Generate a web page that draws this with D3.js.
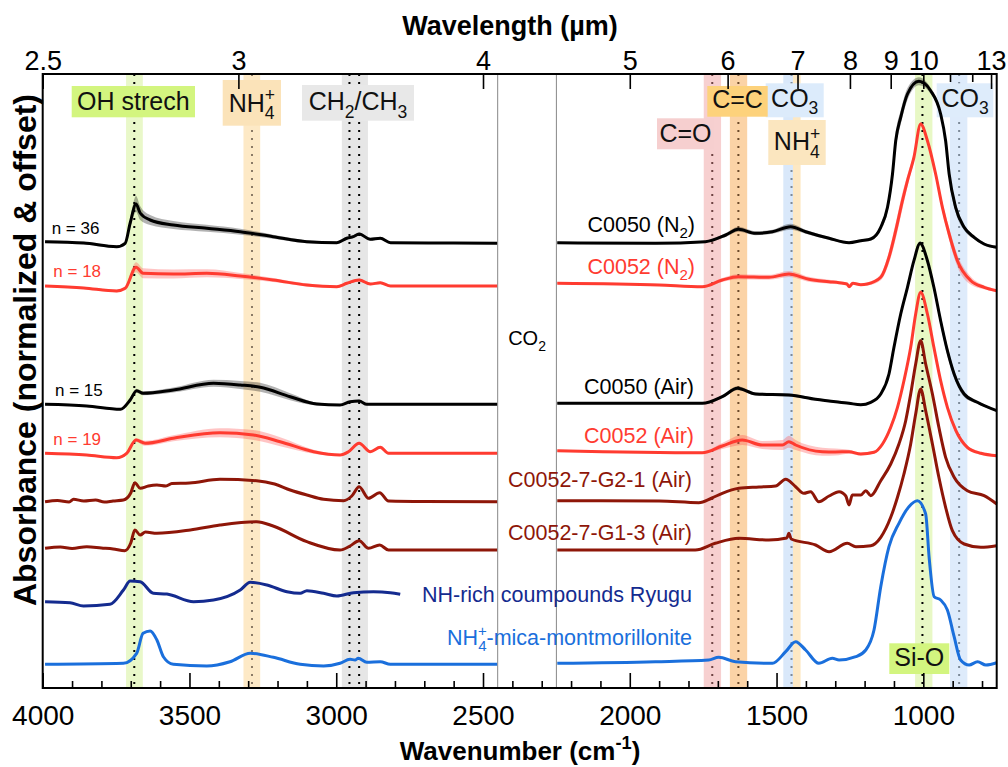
<!DOCTYPE html>
<html>
<head>
<meta charset="utf-8">
<script src="https://cdn.jsdelivr.net/npm/d3@7"></script>
<style>
  body { margin: 0; background: #fff; }
  svg { font-family: "Liberation Sans", Arial, Helvetica, sans-serif; }
</style>
</head>
<body>
<svg id="chart" width="1008" height="767"></svg>
<script>
// ---- spectra: [wavenumber cm-1, absorbance (normalized + offset), spread] ----
const c0050N2_hi = [[3992,4.463,0.012],[3860,4.45,0.012],[3748,4.413,0.012],[3719,4.447,0.02],[3702,4.65,0.05],[3682,4.84,0.08],[3668,4.75,0.07],[3634,4.68,0.05],[3555,4.63,0.04],[3441,4.597,0.035],[3327,4.563,0.03],[3215,4.513,0.02],[3100,4.463,0.015],[2998,4.453,0.012],[2964,4.497,0.015],[2942,4.513,0.015],[2922,4.54,0.015],[2884,4.487,0.012],[2850,4.497,0.012],[2815,4.453,0.01],[2600,4.45,0.01],[2452,4.447,0.01]];
const c0050N2_lo = [[2247,4.453,0.01],[1912,4.447,0.01],[1742,4.463,0.01],[1673,4.53,0.02],[1630,4.587,0.025],[1571,4.547,0.02],[1514,4.563,0.02],[1452,4.613,0.03],[1401,4.563,0.02],[1321,4.497,0.015],[1253,4.453,0.01],[1213,4.473,0.012],[1179,4.49,0.015],[1145,4.607,0.03],[1122,4.807,0.05],[1105,5.14,0.07],[1094,5.473,0.08],[1077,5.707,0.07],[1054,5.94,0.06],[1015,6.067,0.04],[975,5.973,0.03],[941,5.74,0.03],[924,5.473,0.04],[912,5.14,0.05],[890,4.807,0.05],[861,4.607,0.03],[827,4.507,0.02],[793,4.44,0.015],[750,4.407,0.015]];

const c0052N2_hi = [[3992,4.02,0.01],[3860,4.0,0.01],[3748,3.97,0.012],[3719,3.997,0.02],[3682,4.207,0.05],[3658,4.147,0.05],[3555,4.14,0.045],[3441,4.147,0.04],[3327,4.12,0.03],[3215,4.08,0.02],[3100,4.03,0.015],[2998,4.013,0.012],[2964,4.047,0.012],[2922,4.08,0.015],[2884,4.04,0.012],[2850,4.053,0.012],[2815,4.02,0.01],[2600,4.02,0.01],[2452,4.02,0.01]];
const c0052N2_lo = [[2247,4.047,0.01],[1900,4.03,0.01],[1753,4.013,0.01],[1685,4.08,0.02],[1630,4.113,0.025],[1526,4.107,0.025],[1458,4.14,0.03],[1390,4.087,0.025],[1321,4.063,0.02],[1287,4.053,0.015],[1260,4.04,0.012],[1253,4.013,0.012],[1240,4.047,0.012],[1213,4.033,0.012],[1191,4.04,0.015],[1145,4.107,0.03],[1117,4.307,0.06],[1094,4.573,0.08],[1071,4.873,0.08],[1054,5.073,0.06],[1032,5.307,0.04],[1009,5.64,0.02],[986,5.473,0.03],[958,5.14,0.04],[935,4.807,0.05],[912,4.54,0.06],[884,4.273,0.06],[838,4.073,0.04],[793,4.007,0.02],[750,3.973,0.015]];

const c0050Air_hi = [[3992,2.837,0.01],[3850,2.82,0.01],[3735,2.787,0.01],[3702,2.88,0.015],[3680,2.973,0.02],[3658,2.947,0.02],[3555,2.98,0.025],[3418,3.047,0.035],[3327,3.03,0.04],[3259,3.007,0.045],[3157,2.913,0.035],[3066,2.84,0.015],[2987,2.83,0.01],[2953,2.863,0.01],[2922,2.87,0.012],[2896,2.837,0.01],[2700,2.837,0.01],[2452,2.837,0.01]];
const c0050Air_lo = [[2247,2.847,0.01],[1753,2.847,0.01],[1685,2.913,0.015],[1633,2.997,0.02],[1571,2.94,0.015],[1458,2.93,0.015],[1367,2.887,0.012],[1253,2.847,0.01],[1213,2.833,0.01],[1179,2.857,0.01],[1145,2.94,0.015],[1117,3.14,0.02],[1100,3.407,0.03],[1077,3.74,0.03],[1054,4.007,0.03],[1032,4.273,0.03],[1011,4.447,0.02],[986,4.273,0.03],[964,4.007,0.04],[941,3.673,0.05],[918,3.373,0.05],[895,3.14,0.04],[861,2.94,0.03],[816,2.857,0.015],[750,2.773,0.01]];

const c0052Air_hi = [[3992,2.347,0.01],[3850,2.33,0.01],[3748,2.303,0.01],[3714,2.347,0.015],[3682,2.48,0.02],[3651,2.447,0.025],[3555,2.497,0.03],[3396,2.553,0.045],[3282,2.53,0.05],[3191,2.463,0.045],[3077,2.363,0.02],[2987,2.33,0.01],[2958,2.363,0.01],[2922,2.447,0.015],[2884,2.363,0.01],[2850,2.407,0.012],[2822,2.347,0.01],[2600,2.347,0.01],[2452,2.347,0.01]];
const c0052Air_lo = [[2247,2.373,0.01],[1753,2.353,0.01],[1685,2.42,0.03],[1617,2.48,0.05],[1549,2.43,0.04],[1480,2.43,0.05],[1458,2.463,0.06],[1435,2.43,0.05],[1344,2.363,0.04],[1300,2.36,0.035],[1253,2.363,0.02],[1213,2.34,0.015],[1168,2.357,0.015],[1139,2.44,0.02],[1111,2.607,0.03],[1088,2.807,0.03],[1066,3.073,0.03],[1043,3.407,0.03],[1026,3.74,0.02],[1009,3.957,0.02],[986,3.74,0.02],[964,3.407,0.03],[941,3.073,0.03],[918,2.807,0.03],[889,2.573,0.03],[850,2.407,0.02],[804,2.347,0.015],[750,2.323,0.01]];

const g21_hi = [[3992,1.863],[3950,1.875],[3910,1.86],[3895,1.887],[3860,1.87],[3820,1.88],[3790,1.86],[3760,1.87],[3725,1.88],[3700,1.95],[3686,2.053],[3668,1.997],[3640,2.02],[3611,2.03],[3580,2.02],[3560,2.045],[3500,2.05],[3396,2.087],[3271,2.073],[3210,2.04],[3157,1.98],[3100,1.93],[3043,1.887],[2975,1.873],[2947,1.92],[2922,2.013],[2890,1.897],[2852,1.953],[2822,1.87],[2700,1.865],[2452,1.863]];
const g21_lo = [[2247,1.873],[1900,1.87],[1765,1.853],[1720,1.9],[1685,1.947],[1628,1.997],[1560,2.01],[1503,2.02],[1469,2.087],[1435,2.013],[1407,1.947],[1384,1.963],[1356,1.863],[1321,1.92],[1287,1.963],[1264,1.92],[1253,1.83],[1242,1.93],[1213,1.93],[1196,1.973],[1179,1.923],[1145,2.073],[1111,2.24],[1083,2.44],[1060,2.673],[1043,2.94],[1026,3.24],[1009,3.473],[992,3.24],[969,2.94],[947,2.607],[924,2.307],[895,2.107],[850,1.973],[793,1.923],[750,1.84]];

const g13_hi = [[3992,1.397],[3940,1.41],[3900,1.395],[3850,1.413],[3800,1.40],[3760,1.39],[3720,1.373],[3700,1.45],[3686,1.58],[3668,1.53],[3650,1.56],[3611,1.547],[3497,1.58],[3396,1.63],[3271,1.663],[3215,1.62],[3100,1.463],[2987,1.38],[2953,1.42],[2922,1.473],[2890,1.397],[2852,1.43],[2822,1.38],[2700,1.38],[2452,1.38]];
const g13_lo = [[2247,1.38],[1777,1.38],[1709,1.447],[1628,1.497],[1526,1.48],[1465,1.5],[1458,1.547],[1450,1.49],[1367,1.43],[1321,1.363],[1259,1.447],[1230,1.413],[1179,1.423],[1145,1.507],[1111,1.707],[1088,1.907],[1066,2.14],[1043,2.44],[1026,2.74],[1009,2.99],[992,2.773],[969,2.44],[947,2.107],[924,1.807],[901,1.573],[861,1.44],[804,1.407],[750,1.423]];

const ryugu_hi = [[3992,0.863],[3907,0.853],[3861,0.82],[3771,0.837],[3725,0.98],[3702,1.07],[3668,1.063],[3623,0.947],[3577,0.94],[3486,0.863],[3418,0.88],[3327,0.98],[3293,1.057],[3236,1.03],[3168,0.963],[3123,0.947],[3100,0.973],[3043,0.947],[2998,0.92],[2941,0.953],[2873,0.963],[2816,0.953],[2782,0.937]];

const mica_hi = [[3992,0.237],[3725,0.247],[3680,0.347],[3658,0.547],[3634,0.57],[3611,0.48],[3589,0.313],[3555,0.237],[3441,0.22],[3362,0.263],[3293,0.347],[3214,0.307],[3123,0.237],[3043,0.22],[2987,0.247],[2953,0.287],[2936,0.28],[2925,0.297],[2896,0.257],[2850,0.263],[2816,0.237],[2452,0.237]];
const mica_lo = [[2247,0.247],[1913,0.263],[1731,0.28],[1697,0.307],[1640,0.263],[1514,0.247],[1469,0.363],[1435,0.463],[1401,0.38],[1356,0.247],[1310,0.297],[1287,0.28],[1230,0.313],[1196,0.38],[1168,0.58],[1145,1.013],[1117,1.413],[1083,1.647],[1049,1.813],[1020,1.873],[992,1.74],[980,1.3],[963,0.913],[941,0.88],[918,0.78],[895,0.513],[873,0.28],[844,0.23],[815,0.263],[787,0.23],[750,0.253]];

// ---- assignment bands (cm-1) ----
const bandNames = ["OH", "NH4 (3 µm)", "CH2/CH3", "C=O", "C=C", "CO3", "NH4 (7 µm)", "Si-O", "CO3 (11 µm)"];
const bandFrom  = [3716, 3316, 2981, 1748, 1659, 1477, 1444, 1028, 909];
const bandTo    = [3659, 3259, 2892, 1689, 1600, 1444, 1418, 969, 850];
const bandLines = [[3688], [3287], [2955, 2922], [1719], [1630], [1449], [], [1003], [878]];

// CO2 gap
const gapFrom = 2450, gapTo = 2250;

// axis ticks
const wnMajor = [4000, 3500, 3000, 2500, 2000, 1500, 1000];
const wnMinor = [3900, 3800, 3700, 3600, 3400, 3300, 3200, 3100, 2900, 2800, 2700, 2600, 2400, 2300, 2200, 2100, 1900, 1800, 1700, 1600, 1400, 1300, 1200, 1100, 900, 800];
const umMajor = [2.5, 3, 4, 5, 6, 7, 8, 9, 10, 13];
const umMinor = [11, 12];

// ---- styles ----
const bandFill  = ["#e9f8c9", "#fde9c6", "#e6e6e6", "#f7d0d0", "#fbd3a6", "#d9e8fa", "#fde8c3", "#e8f8c5", "#deebfb"];
const bandDot   = ["#000", "#8a7a66", "#000", "#6e4444", "#6b4a2a", "#7d8a99", "#000", "#000", "#7d8a99"];

const L = 42.7, R = 996.7, T = 74, B = 688;
const x = d3.scaleLinear().domain([4000, 750]).range([L, R]);
const y = d3.scaleLinear().domain([0, 6.14]).range([B, T]);

const svg = d3.select("#chart");

function rich(text, parts, size) {
  let off = 0;
  parts.forEach(p => {
    const [s, k] = Array.isArray(p) ? p : [p, "n"];
    const target = k === "sub" || k === "subback" ? size * 0.3 : k === "sup" ? -size * 0.42 : 0;
    const t = text.append("tspan").text(s).attr("dy", target - off);
    if (k !== "n") t.attr("font-size", size * 0.7);
    if (k === "subback") t.attr("dx", -size * 0.7 * 0.584);
    off = target;
  });
}

// bands
const bands = svg.append("g");
bandFrom.forEach((f, i) => {
  bands.append("rect")
    .attr("x", x(f)).attr("width", x(bandTo[i]) - x(f))
    .attr("y", T).attr("height", B - T)
    .attr("fill", bandFill[i]);
});
bandLines.forEach((ls, i) => {
  ls.forEach(v => {
    bands.append("line")
      .attr("x1", x(v)).attr("x2", x(v)).attr("y1", T).attr("y2", B)
      .attr("stroke", bandDot[i]).attr("stroke-width", 2)
      .attr("stroke-dasharray", "2,6");
  });
});

// tag boxes (drawn over the bands)
const tags = [
  { parts: ["OH strech"], box: [71.7, 86, 195, 117.3], base: 110, fill: "#d3f57f" },
  { parts: ["NH", ["+", "sup"], ["4", "subback"]], box: [222.7, 80, 281, 125.7], base: 111.7, fill: "#fbe3b9" },
  { parts: ["CH", ["2", "sub"], "/CH", ["3", "sub"]], box: [302, 85, 414, 120.7], base: 110, fill: "#e8e8e8" },
  { parts: ["C=O"], box: [657, 118.3, 714, 149.3], base: 141.7, fill: "#f6cfcf" },
  { parts: ["CO", ["3", "sub"]], box: [765.7, 83.3, 823.7, 117.3], base: 106.7, fill: "#dcebfb" },
  { parts: ["C=C"], box: [707.3, 86, 767.7, 116.7], base: 108.3, fill: "#fdd27b" },
  { parts: ["NH", ["+", "sup"], ["4", "subback"]], box: [768.3, 120, 825.7, 165], base: 150, fill: "#fbe6bf" },
  { parts: ["CO", ["3", "sub"]], box: [936.7, 83.3, 993.3, 117.3], base: 106.7, fill: "#deecfb" },
  { parts: ["Si-O"], box: [889.3, 643.3, 949.3, 674], base: 666, fill: "#d3f57f" }
];
const tagG = svg.append("g");
tags.forEach(t => {
  const [x0, y0, x1, y1] = t.box;
  tagG.append("rect").attr("x", x0).attr("y", y0).attr("width", x1 - x0).attr("height", y1 - y0).attr("fill", t.fill);
  const tx = tagG.append("text").attr("x", (x0 + x1) / 2).attr("y", t.base)
    .attr("text-anchor", "middle").attr("font-size", 25).attr("fill", "#111");
  rich(tx, t.parts, 25);
});

// CO2 gap
svg.append("rect").attr("x", x(gapFrom)).attr("width", x(gapTo) - x(gapFrom))
  .attr("y", T).attr("height", B - T).attr("fill", "#fff");
[gapFrom, gapTo].forEach(v => svg.append("line").attr("x1", x(v)).attr("x2", x(v))
  .attr("y1", T).attr("y2", B).attr("stroke", "#888").attr("stroke-width", 1));
const co2 = svg.append("text").attr("x", (x(gapFrom) + x(gapTo)) / 2).attr("y", 345)
  .attr("text-anchor", "middle").attr("font-size", 20);
rich(co2, ["CO", ["2", "sub"]], 20);

// spectra
const series = [
  { segs: [mica_hi, mica_lo], color: "#1a6fdc" },
  { segs: [ryugu_hi], color: "#142b8f" },
  { segs: [g13_hi, g13_lo], color: "#8e1608" },
  { segs: [g21_hi, g21_lo], color: "#8e1608" },
  { segs: [c0052Air_hi, c0052Air_lo], color: "#ff3b30", shade: "rgba(255,70,70,0.32)" },
  { segs: [c0050Air_hi, c0050Air_lo], color: "#000", shade: "rgba(0,0,0,0.3)" },
  { segs: [c0052N2_hi, c0052N2_lo], color: "#ff3b30", shade: "rgba(255,70,70,0.32)" },
  { segs: [c0050N2_hi, c0050N2_lo], color: "#000", shade: "rgba(0,0,0,0.3)" }
];
const line = d3.line().x(d => x(d[0])).y(d => y(d[1])).curve(d3.curveMonotoneX);
const area = d3.area().x(d => x(d[0]))
  .y0(d => y(d[1] - d[2])).y1(d => y(d[1] + d[2])).curve(d3.curveMonotoneX);

const specG = svg.append("g");
series.forEach(s => {
  if (!s.shade) return;
  s.segs.forEach(seg => specG.append("path").attr("d", area(seg)).attr("fill", s.shade));
});
series.forEach(s => {
  s.segs.forEach(seg => specG.append("path").attr("d", line(seg))
    .attr("fill", "none").attr("stroke", s.color).attr("stroke-width", 3)
    .attr("stroke-linejoin", "round"));
});

// sample labels
const names = [
  { parts: ["C0050 (N", ["2", "sub"], ")"], xr: 695, yb: 232, color: "#000" },
  { parts: ["C0052 (N", ["2", "sub"], ")"], xr: 695, yb: 274, color: "#ff3b30" },
  { parts: ["C0050 (Air)"], xr: 694, yb: 394, color: "#000" },
  { parts: ["C0052 (Air)"], xr: 694, yb: 442.7, color: "#ff3b30" },
  { parts: ["C0052-7-G2-1 (Air)"], xr: 692, yb: 487.3, color: "#8e1608" },
  { parts: ["C0052-7-G1-3 (Air)"], xr: 692, yb: 540, color: "#8e1608" },
  { parts: ["NH-rich coumpounds Ryugu"], xr: 692, yb: 601.7, color: "#142b8f" },
  { parts: ["NH", ["+", "sup"], ["4", "subback"], "-mica-montmorillonite"], xr: 692, yb: 645, color: "#1a6fdc" }
];
names.forEach(n => {
  const t = svg.append("text").attr("x", n.xr).attr("y", n.yb).attr("text-anchor", "end")
    .attr("font-size", 21.5).attr("fill", n.color);
  rich(t, n.parts, 21.5);
});

const counts = [["n = 36", 51.7, 234, "#000"], ["n = 18", 53.3, 277.3, "#ff3b30"],
                ["n = 15", 55, 396, "#000"], ["n = 19", 53.3, 445, "#ff3b30"]];
counts.forEach(([s, cx, cy, c]) => svg.append("text").attr("x", cx).attr("y", cy)
  .attr("font-size", 17).attr("fill", c).text(s));

// axes
function styleAxis(g) {
  g.select(".domain").remove();
  g.selectAll(".tick line").attr("stroke", "#000").attr("stroke-width", 1.6);
  g.selectAll(".tick text").attr("fill", "#000").attr("font-family", "\"Liberation Sans\", Arial, sans-serif");
}
svg.append("g").attr("transform", `translate(0,${B})`)
  .call(d3.axisBottom(x).tickValues(wnMajor).tickSize(-15).tickPadding(17).tickFormat(d3.format("d")))
  .attr("font-size", 28).call(styleAxis);
svg.append("g").attr("transform", `translate(0,${B})`)
  .call(d3.axisBottom(x).tickValues(wnMinor).tickSize(-7).tickFormat(""))
  .call(styleAxis);

const toWn = um => 10000 / um;
svg.append("g").attr("transform", `translate(0,${T})`)
  .call(d3.axisTop(x).tickValues(umMajor.map(toWn)).tickSize(-15).tickPadding(4)
    .tickFormat(d => String(+(10000 / d).toFixed(1))))
  .attr("font-size", 27).call(styleAxis);
svg.append("g").attr("transform", `translate(0,${T})`)
  .call(d3.axisTop(x).tickValues(umMinor.map(toWn)).tickSize(-8).tickFormat(""))
  .call(styleAxis);

// frame
svg.append("rect").attr("x", L).attr("y", T).attr("width", R - L).attr("height", B - T)
  .attr("fill", "none").attr("stroke", "#000").attr("stroke-width", 2);

// titles
svg.append("text").attr("x", 510).attr("y", 35).attr("text-anchor", "middle")
  .attr("font-size", 27).attr("font-weight", "bold").text("Wavelength (µm)");
const xt = svg.append("text").attr("x", 520).attr("y", 760).attr("text-anchor", "middle")
  .attr("font-size", 26).attr("font-weight", "bold");
rich(xt, ["Wavenumber (cm", ["-1", "sup"], ")"], 26);
svg.append("text").attr("transform", "translate(36,350) rotate(-90)").attr("text-anchor", "middle")
  .attr("font-size", 32).attr("font-weight", "bold").text("Absorbance (normalized & offset)");
</script>
</body>
</html>
